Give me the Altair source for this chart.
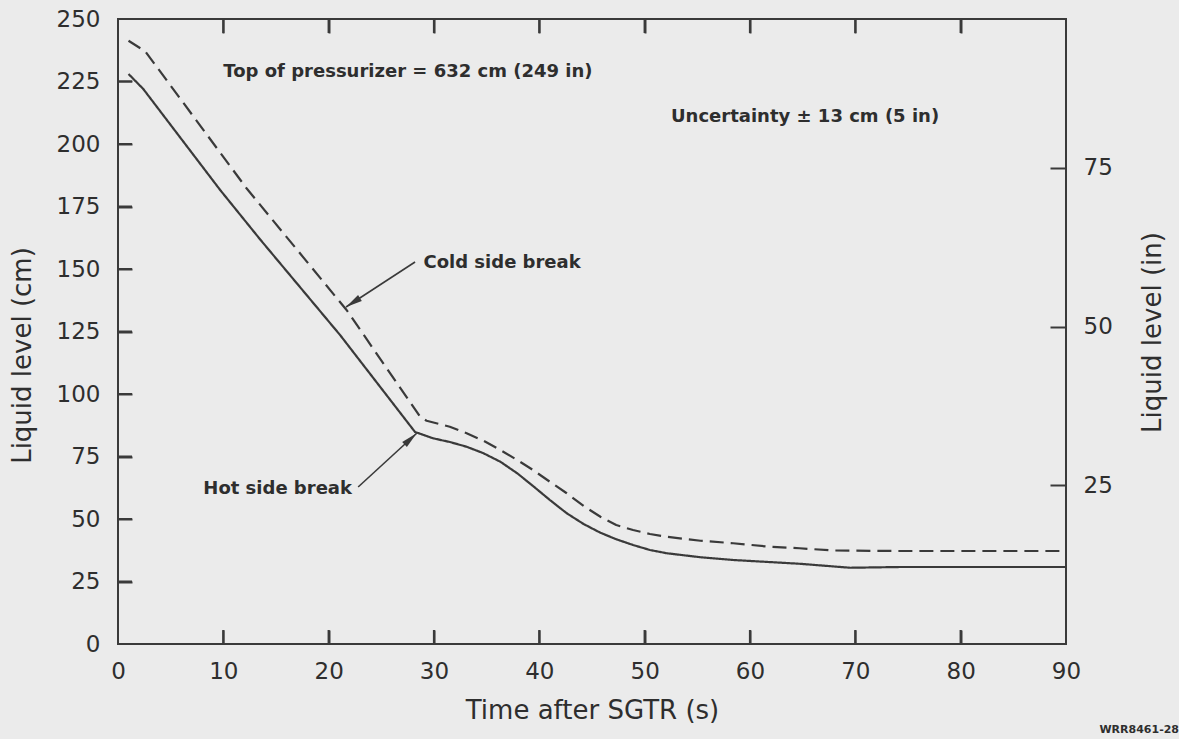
import altair as alt
import pandas as pd

# ---- data ----
time_hot = [1.0, 2.4, 9.7, 13.5, 21.1, 28.2, 29.9, 31.5, 33.1, 34.7, 36.3, 37.9, 39.4, 41.0, 42.6, 44.2, 45.8, 47.3, 48.9, 50.5, 52.1, 55.3, 58.4, 64.7, 69.5, 74.3, 79.0, 83.8, 90.0]
level_hot = [228.0, 222.0, 181.6, 161.8, 123.5, 84.8, 82.3, 80.8, 78.9, 76.3, 72.9, 68.3, 63.2, 57.6, 52.3, 48.0, 44.5, 41.9, 39.6, 37.6, 36.3, 34.7, 33.6, 32.1, 30.5, 30.8, 30.8, 30.8, 30.8]

time_cold = [1.0, 2.6, 12.2, 21.7, 28.7, 29.3, 31.5, 33.1, 34.7, 36.3, 37.9, 39.4, 41.0, 42.6, 44.2, 45.8, 47.3, 48.9, 50.5, 52.1, 55.3, 58.4, 61.6, 64.7, 67.9, 74.3, 80.6, 90.0]
level_cold = [241.3, 237.0, 182.3, 133.6, 90.8, 89.3, 86.9, 84.3, 81.3, 77.6, 73.6, 69.6, 64.9, 60.3, 55.2, 50.9, 47.6, 45.6, 44.0, 42.9, 41.3, 40.3, 39.0, 38.3, 37.4, 37.2, 37.2, 37.2]

x_ticks = [0, 10, 20, 30, 40, 50, 60, 70, 80, 90]
y_ticks_cm = [0, 25, 50, 75, 100, 125, 150, 175, 200, 225, 250]
y_ticks_in = [25, 50, 75]
CM_PER_IN = 2.54

notes_text = ["Top of pressurizer = 632 cm (249 in)", "Uncertainty \u00b1 13 cm (5 in)", "Cold side break", "Hot side break"]
notes_x = [10.0, 52.5, 29.0, 8.1]
notes_y = [228.8, 210.8, 152.4, 62.0]

arrow_x0 = [28.2, 22.8]
arrow_y0 = [152.8, 62.8]
arrow_x1 = [21.65, 28.36]
arrow_y1 = [134.8, 84.3]
arrow_angle = [237, 47.5]

# ---- styling ----
W, H = 948, 625
X_MAX, Y_MAX = 90, 250
TICK_PX = 14
INK = "#2e2e2e"
LINE = "#3a3a3a"
FONT = "DejaVu Sans"

# curves
frames = [
    pd.DataFrame({"t": time_hot, "cm": level_hot, "seg": "hot", "style": "solid"}),
    pd.DataFrame({"t": time_cold, "cm": level_cold, "seg": "cold", "style": "dashed"}),
]
# inward tick segments (tick length converted from pixels to data units)
dy = TICK_PX * Y_MAX / H
dx = TICK_PX * X_MAX / W
for v in x_ticks[1:-1]:
    frames.append(pd.DataFrame({"t": [v, v], "cm": [0, dy], "seg": f"b{v}", "style": "solid"}))
    frames.append(pd.DataFrame({"t": [v, v], "cm": [Y_MAX, Y_MAX - dy], "seg": f"t{v}", "style": "solid"}))
for v in y_ticks_cm[1:-1]:
    frames.append(pd.DataFrame({"t": [0, dx], "cm": [v, v], "seg": f"l{v}", "style": "solid"}))
df = pd.concat(frames, ignore_index=True)
df["inch"] = df["cm"] / CM_PER_IN


def xs():
    return alt.Scale(domain=[0, X_MAX], nice=False)


def ys():
    return alt.Scale(domain=[0, Y_MAX], nice=False)


def ys_in():
    return alt.Scale(domain=[0, Y_MAX / CM_PER_IN], nice=False)


def tick_axis(orient, offset, values, size=TICK_PX):
    # an axis moved onto the opposite edge so that its ticks point into the plot
    return alt.Axis(orient=orient, offset=offset, values=values, labels=False, ticks=True,
                    tickSize=size, tickWidth=2, tickColor=LINE, domain=False, grid=False, title=None)


x_axis = alt.Axis(orient="bottom", values=x_ticks, title="Time after SGTR (s)", labelPadding=16,
                  labelFlush=False, titleY=66, titleBaseline="middle")
y_axis = alt.Axis(orient="left", values=y_ticks_cm, title="Liquid level (cm)", labelPadding=18,
                  labelFlush=False, titleX=-96, titleY=336, titleBaseline="middle")

lines = alt.Chart(df).mark_line(strokeWidth=2.2, color=LINE, strokeJoin="round").encode(
    x=alt.X("t:Q", scale=xs(), axis=x_axis),
    y=alt.Y("cm:Q", scale=ys(), axis=y_axis),
    strokeDash=alt.StrokeDash("style:N", scale=alt.Scale(domain=["solid", "dashed"],
                                                        range=[[1, 0], [14, 7]]), legend=None),
    detail="seg:N",
)

notes = pd.DataFrame({"text": notes_text, "t": notes_x, "cm": notes_y})
texts = alt.Chart(notes).mark_text(align="left", baseline="middle", font=FONT, fontSize=18,
                                   fontWeight="bold", color=INK).encode(
    x=alt.X("t:Q", scale=xs()), y=alt.Y("cm:Q", scale=ys()), text="text:N")

arr = pd.DataFrame({"x0": arrow_x0, "y0": arrow_y0, "x1": arrow_x1, "y1": arrow_y1, "ang": arrow_angle})
shafts = alt.Chart(arr).mark_rule(color=LINE, strokeWidth=1.6).encode(
    x=alt.X("x0:Q", scale=xs()), y=alt.Y("y0:Q", scale=ys()), x2="x1:Q", y2="y1:Q")
heads = alt.Chart(arr).mark_point(shape="M0,0L0.5,2.4L-0.5,2.4Z", filled=True, size=190,
                                  color=LINE, opacity=1).encode(
    x=alt.X("x1:Q", scale=xs()), y=alt.Y("y1:Q", scale=ys()),
    angle=alt.Angle("ang:Q", scale=None))

mark_id = alt.Chart(pd.DataFrame({"text": ["WRR8461-28"]})).mark_text(
    align="right", baseline="middle", font=FONT, fontSize=11, fontWeight="bold", color=INK).encode(
    x=alt.value(1061), y=alt.value(711), text="text:N")

cm_layer = alt.layer(lines, texts, shafts, heads, mark_id)

curves = df[df["seg"].isin(["hot", "cold"])]
ticks_a = alt.Chart(curves).mark_point(opacity=0).encode(
    x=alt.X("t:Q", scale=xs(), axis=tick_axis("top", -H, x_ticks[1:-1])),
    y=alt.Y("cm:Q", scale=ys(), axis=tick_axis("right", -W, y_ticks_cm[1:-1])))
ticks_b = alt.Chart(curves).mark_point(opacity=0).encode(
    x=alt.X("t:Q", scale=xs(), axis=tick_axis("bottom", -H, x_ticks[1:-1])),
    y=alt.Y("cm:Q", scale=ys(), axis=None))
inch_labels = alt.Chart(curves).mark_point(opacity=0).encode(
    x=alt.X("t:Q", scale=xs(), axis=None),
    y=alt.Y("inch:Q", scale=ys_in(),
            axis=alt.Axis(orient="right", values=y_ticks_in, title="Liquid level (in)",
                          labelPadding=17, labelFlush=False, titleAngle=270, titleX=86, titleY=313,
                          titleBaseline="middle")))
inch_ticks = alt.Chart(curves).mark_point(opacity=0).encode(
    x=alt.X("t:Q", scale=xs(), axis=None),
    y=alt.Y("inch:Q", scale=ys_in(), axis=tick_axis("left", -W, y_ticks_in, size=16)))

chart = alt.layer(cm_layer, ticks_a, ticks_b, inch_labels, inch_ticks).resolve_scale(
    x="independent", y="independent").resolve_axis(x="independent", y="independent").properties(
    width=W, height=H, background="#ebebeb",
    padding={"left": 118, "top": 19, "right": 113, "bottom": 95},
    autosize=alt.AutoSizeParams(type="none"),
).configure_view(stroke=LINE, strokeWidth=2).configure_axis(
    grid=False, domain=False, ticks=False,
    labelFont=FONT, labelFontSize=23, labelColor=INK,
    titleFont=FONT, titleFontSize=26, titleFontWeight="normal", titleColor=INK,
)

chart.save("out.html", embed_options={"renderer": "svg", "actions": False})
